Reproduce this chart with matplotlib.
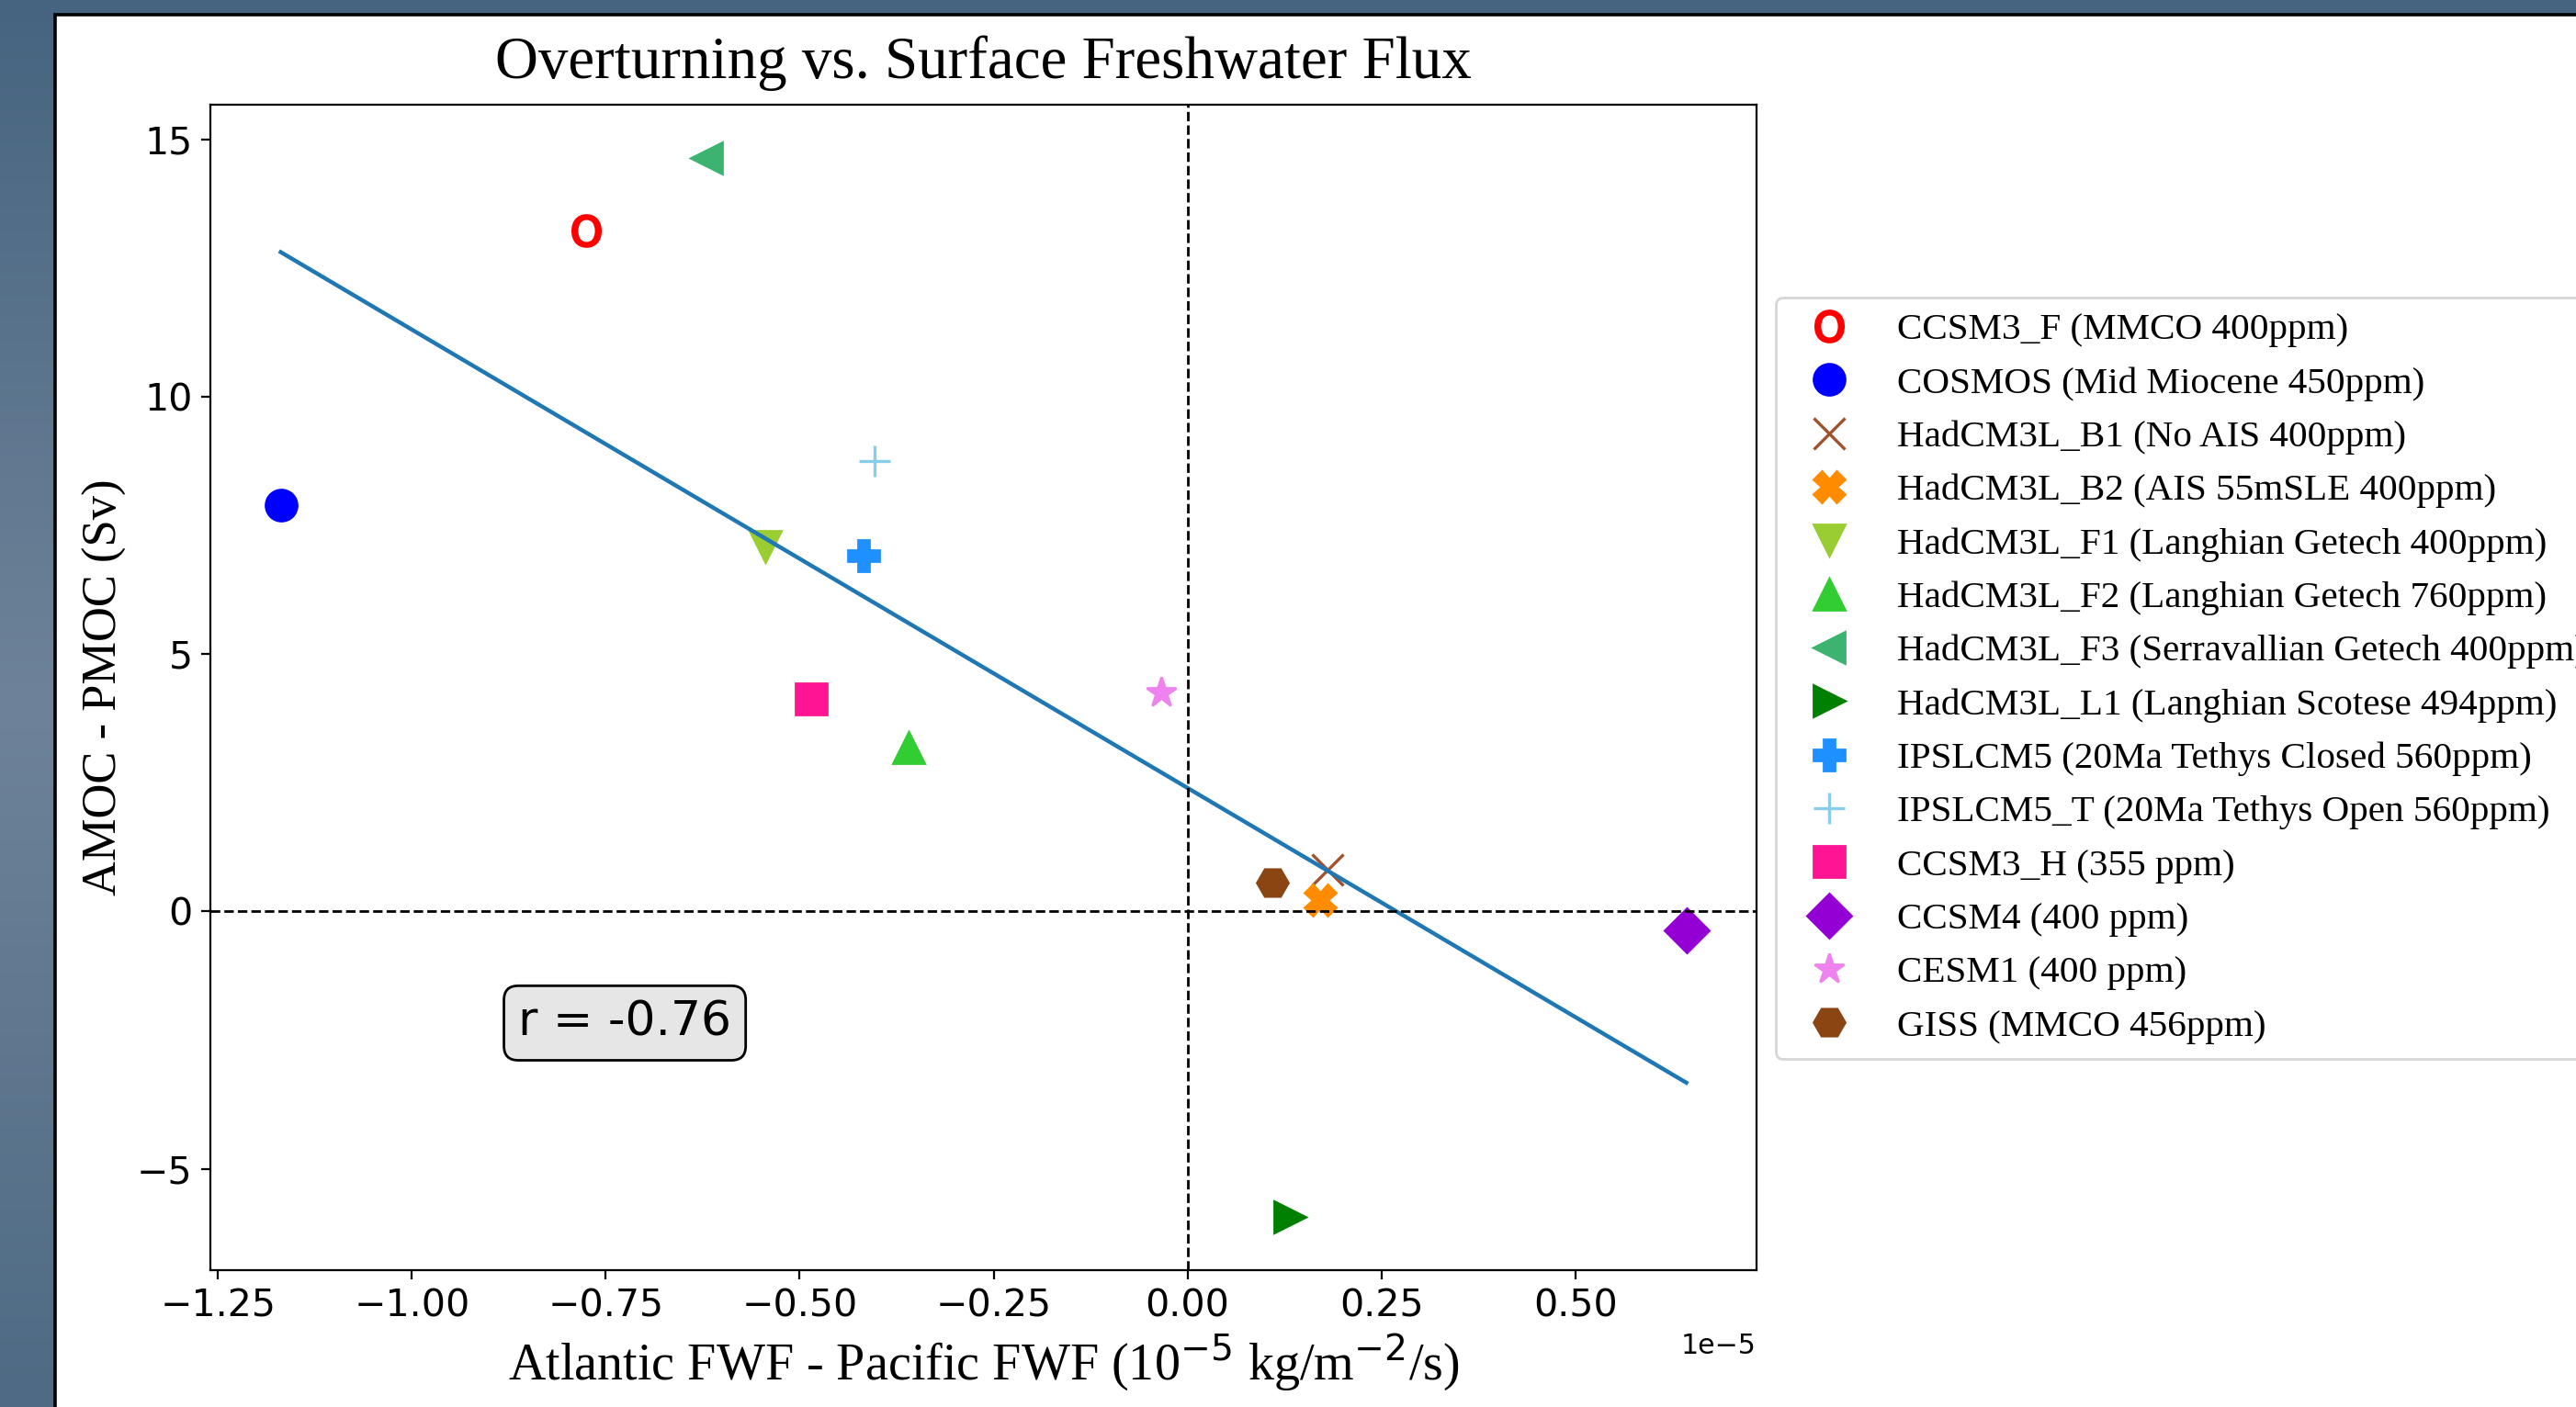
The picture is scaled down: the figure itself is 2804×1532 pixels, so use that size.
import matplotlib
matplotlib.use("Agg")
import matplotlib.pyplot as plt
import numpy as np
from matplotlib.colors import LinearSegmentedColormap
from matplotlib.patches import Rectangle

# Model runs: Atlantic minus Pacific freshwater flux (1e-5 kg/m2/s) and AMOC - PMOC (Sv)
labels = [
    "CCSM3_F (MMCO 400ppm)",
    "COSMOS (Mid Miocene 450ppm)",
    "HadCM3L_B1 (No AIS 400ppm)",
    "HadCM3L_B2 (AIS 55mSLE 400ppm)",
    "HadCM3L_F1 (Langhian Getech 400ppm)",
    "HadCM3L_F2 (Langhian Getech 760ppm)",
    "HadCM3L_F3 (Serravallian Getech 400ppm)",
    "HadCM3L_L1 (Langhian Scotese 494ppm)",
    "IPSLCM5 (20Ma Tethys Closed 560ppm)",
    "IPSLCM5_T (20Ma Tethys Open 560ppm)",
    "CCSM3_H (355 ppm)",
    "CCSM4 (400 ppm)",
    "CESM1 (400 ppm)",
    "GISS (MMCO 456ppm)",
]
fwf_diff = [-0.775, -1.169, 0.181, 0.171, -0.544, -0.360, -0.620,
            0.132, -0.418, -0.404, -0.485, 0.643, -0.034, 0.109]
moc_diff = [13.23, 7.90, 0.82, 0.23, 7.09, 3.19, 14.65,
            -5.94, 6.92, 8.75, 4.14, -0.37, 4.26, 0.57]
markers = [r"$\mathrm{O}$", "o", "x", "X", "v", "^", "<",
           ">", "P", "+", "s", "D", "*", "H"]
colors = ["red", "blue", "sienna", "darkorange", "yellowgreen", "limegreen",
          "mediumseagreen", "green", "dodgerblue", "skyblue", "deeppink",
          "darkviolet", "violet", "saddlebrown"]

x = np.array(fwf_diff) * 1e-5
y = np.array(moc_diff)

fig = plt.figure(figsize=(14.02, 7.66), dpi=200)

# window backdrop behind the figure panel
bg = fig.add_axes([0, 0, 1, 1], zorder=-10)
cmap = LinearSegmentedColormap.from_list(
    "bg", [(0.0, "#4e6a84"), (0.5, "#6e8399"), (1.0, "#466480")])
bg.imshow(np.linspace(0, 1, 256).reshape(-1, 1)[::-1] * np.ones((1, 4)),
          cmap=cmap, aspect="auto", extent=[0, 1, 0, 1], origin="upper")
bg.axis("off")
fig.patches.append(Rectangle((60 / 2804, -0.05), 1.2, 1.05 - 16 / 1532,
                             transform=fig.transFigure, facecolor="white",
                             edgecolor="black", linewidth=1.3, zorder=-5))

ax = fig.add_axes([0.0817, 0.0973, 0.6002, 0.8283])

for xi, yi, m, c, lab in zip(x, y, markers, colors, labels):
    mew = 1.2 if m in ("x", "+") else 1.0
    ax.plot(xi, yi, ls="none", marker=m, color=c, ms=12.2, mew=mew, label=lab)

# least-squares fit and correlation
slope, intercept = np.polyfit(x, y, 1)
xs = np.array([x.min(), x.max()])
ax.plot(xs, slope * xs + intercept, color="#1f77b4", lw=1.6)
r = np.corrcoef(x, y)[0, 1]

ax.axhline(0, color="k", ls="--", lw=1)
ax.axvline(0, color="k", ls="--", lw=1)

ax.text(0.268, 0.212, f"r = {r:.2f}", transform=ax.transAxes, fontsize=18.7,
        ha="center", va="center",
        bbox=dict(boxstyle="round,pad=0.3", facecolor="0.9", edgecolor="black"))

serif = "Liberation Serif"
ax.set_title("Overturning vs. Surface Freshwater Flux", fontname=serif,
             fontsize=23.4, pad=10.5)
ax.set_xlabel(r"Atlantic FWF - Pacific FWF (10$^{-5}$ kg/m$^{-2}$/s)",
              fontname=serif, fontsize=20.2, labelpad=3)
ax.set_ylabel("AMOC - PMOC (Sv)", fontname=serif, fontsize=18.9)
ax.tick_params(labelsize=14.8)
ax.xaxis.get_offset_text().set_fontsize(10.8)

ax.legend(loc="upper left", bbox_to_anchor=(0.6894, 0.7885),
          bbox_transform=fig.transFigure, borderaxespad=0,
          prop={"family": serif, "size": 14.8})

fig.savefig("out.png", dpi=200)
